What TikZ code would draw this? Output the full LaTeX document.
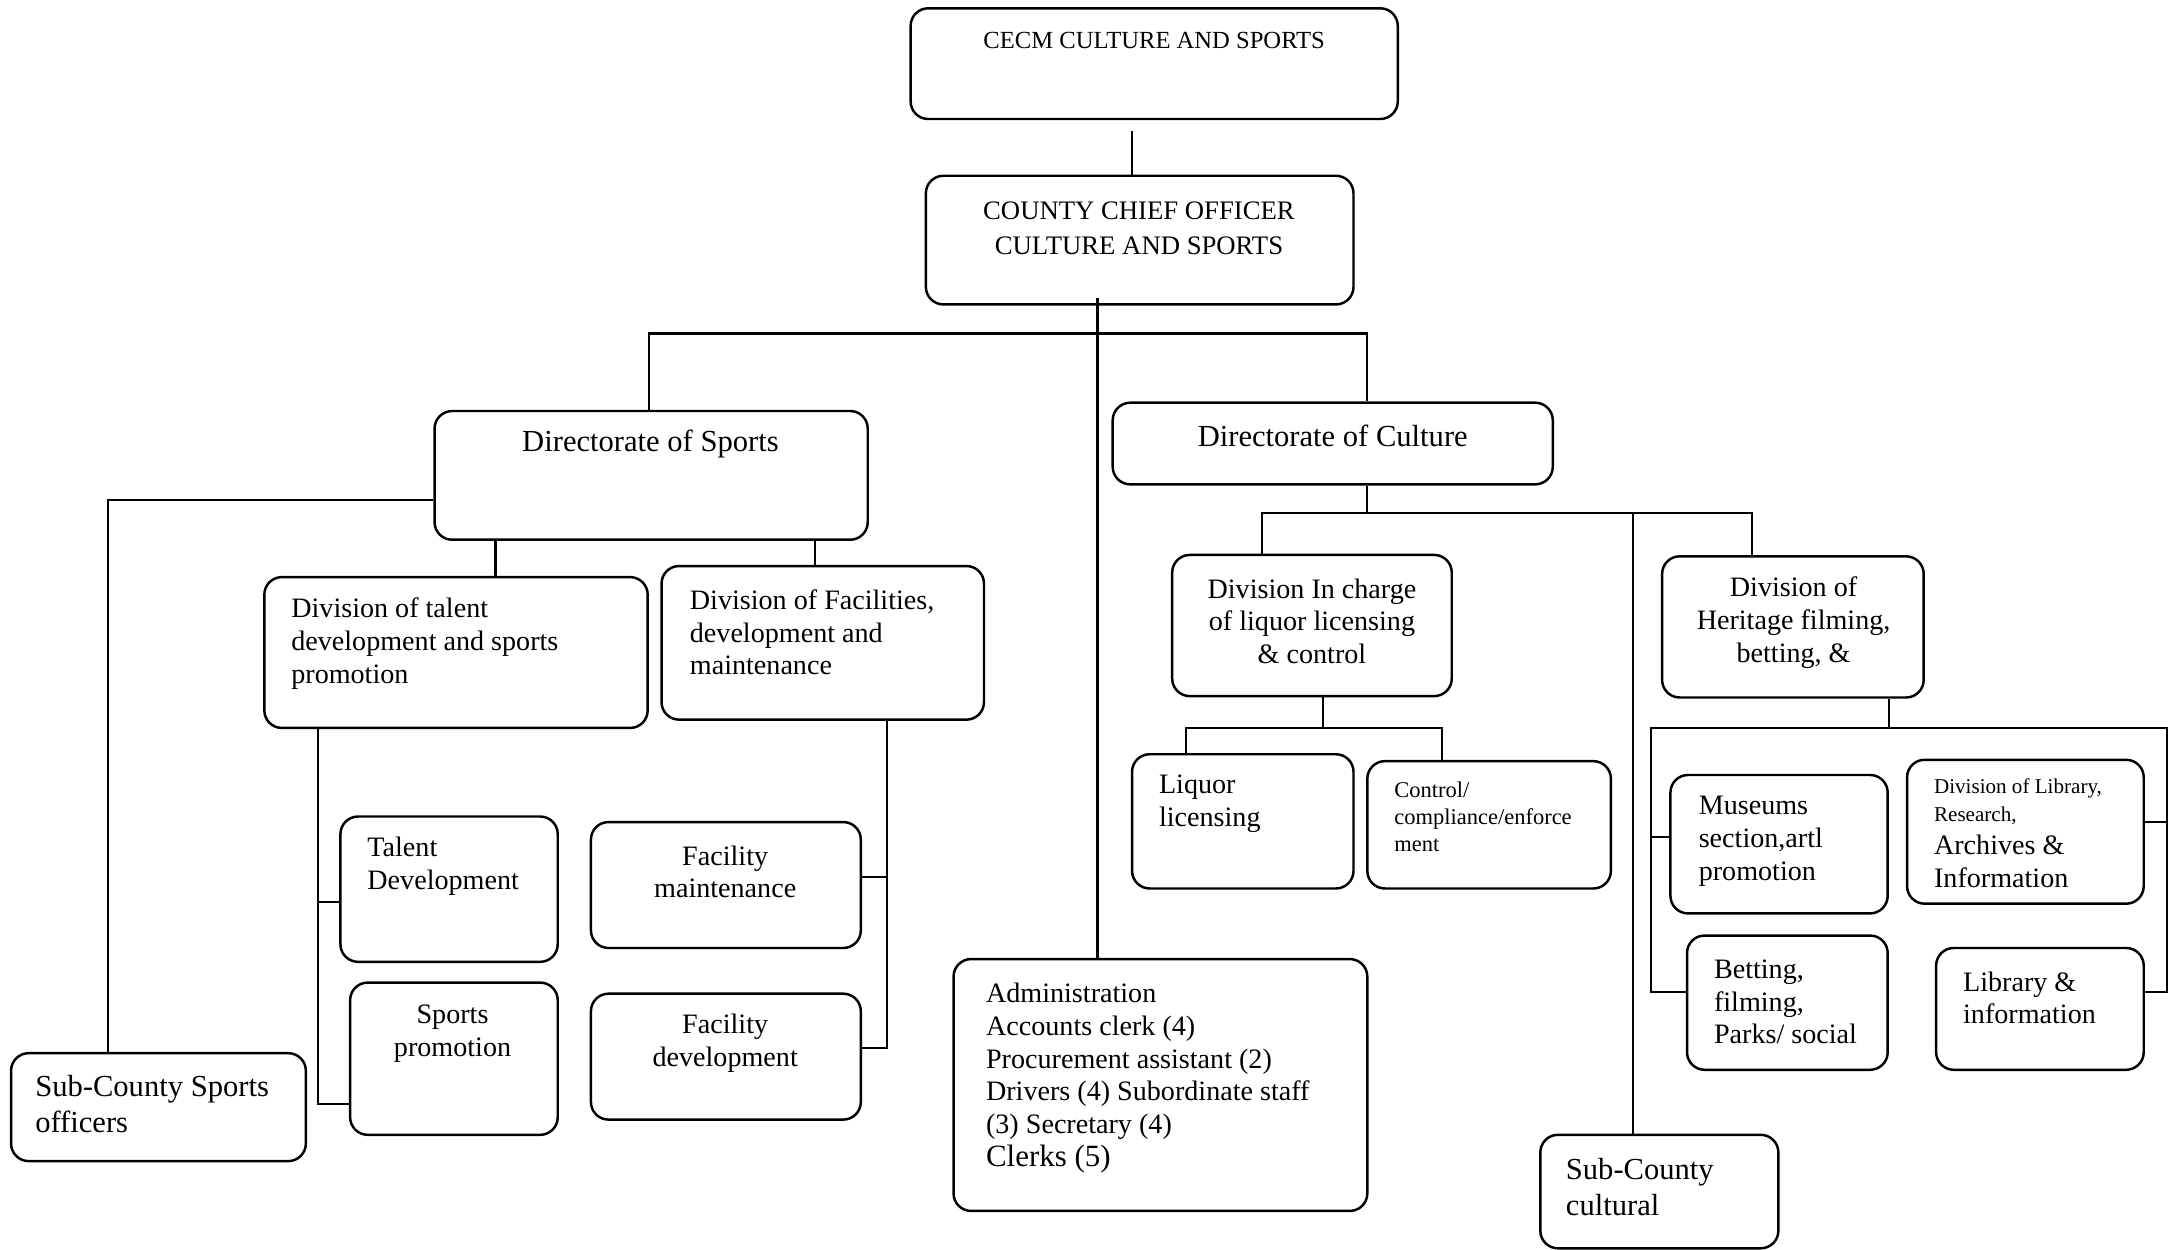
\documentclass[tikz,border=0pt]{standalone}
\usepackage{fontspec}
\setmainfont{Liberation Serif}
\usetikzlibrary{positioning, fit, calc}

\begin{document}
\begin{tikzpicture}[
        x=0.01384cm, y=-0.01384cm,
        box/.style={draw, line width=0.7pt, rounded corners=5pt, inner sep=0pt},
        lbl/.style={font=\fontsize{8}{9.3}\selectfont, inner sep=0pt, align=left, anchor=west},
        lblc/.style={lbl, align=center, anchor=center},
        small/.style={font=\fontsize{6.4}{7.7}\selectfont},
        big/.style={font=\fontsize{8.7}{10.2}\selectfont},
        link/.style={line width=0.6pt}
    ]
        \useasboundingbox (0,0) rectangle (1568,903);

        % boxes
        \node[box, fit={(658,6) (1010,86)}] (cecm) {};
        \node[box, fit={(669,127) (978,220)}] (chief) {};
        \node[box, fit={(314,297) (627,390)}] (sports) {};
        \node[box, fit={(804,291) (1122,350)}] (culture) {};
        \node[box, fit={(191,417) (468,526)}] (divtal) {};
        \node[box, fit={(478,409) (711,520)}] (divfac) {};
        \node[box, fit={(246,590) (403,695)}] (tdev) {};
        \node[box, fit={(253,710) (403,820)}] (sprom) {};
        \node[box, fit={(427,594) (622,685)}] (fmaint) {};
        \node[box, fit={(427,718) (622,809)}] (fdev) {};
        \node[box, fit={(8,761) (221,839)}] (subsp) {};
        \node[box, fit={(689,693) (988,875)}] (admin) {};
        \node[box, fit={(847,401) (1049,503)}] (divliq) {};
        \node[box, fit={(818,545) (978,642)}] (liqlic) {};
        \node[box, fit={(988,550) (1164,642)}] (control) {};
        \node[box, fit={(1201,402) (1390,504)}] (divher) {};
        \node[box, fit={(1207,560) (1364,660)}] (museum) {};
        \node[box, fit={(1378,549) (1549,653)}] (libdiv) {};
        \node[box, fit={(1219,676) (1364,773)}] (betting) {};
        \node[box, fit={(1399,685) (1549,773)}] (libinfo) {};
        \node[box, fit={(1113,820) (1285,902)}] (subcul) {};

        % texts
        \node[lblc, font=\fontsize{7}{8.5}\selectfont] (cecm-t) at (834,29) {CECM CULTURE AND SPORTS};
        \node[lblc, font=\fontsize{7.6}{10.2}\selectfont] (chief-t) at (823,165) {COUNTY CHIEF OFFICER\\CULTURE AND SPORTS};
        \node[lblc, big] (sports-t) at (470,321) {Directorate of Sports};
        \node[lblc, big] (culture-t) at (963,315) {Directorate of Culture};
        \node[lbl] (divtal-t) at (210,465) {Division of talent\\development and sports\\promotion};
        \node[lbl] (divfac-t) at (498,457) {Division of Facilities,\\development and\\maintenance};
        \node[lbl] (tdev-t) at (265,626) {Talent\\Development};
        \node[lblc] (sprom-t) at (327,747) {Sports\\promotion};
        \node[lblc] (fmaint-t) at (524,630) {Facility\\maintenance};
        \node[lblc] (fdev-t) at (524,754) {Facility\\development};
        \node[lbl, big] (subsp-t) at (25,798) {Sub-County Sports\\officers};
        \node[lbl] (admin-t) at (712,779) {Administration\\Accounts clerk (4)\\Procurement assistant (2)\\Drivers (4) Subordinate staff\\(3) Secretary (4)\\{\fontsize{8.8}{9.3}\selectfont Clerks (5)}};
        \node[lblc] (divliq-t) at (948,449) {Division In charge\\of liquor licensing\\\& control};
        \node[lbl] (liqlic-t) at (837,581) {Liquor\\licensing};
        \node[lbl, small] (control-t) at (1007,590) {Control/\\compliance/enforce\\ment};
        \node[lblc] (divher-t) at (1296,450) {Division of\\Heritage filming,\\betting, \&};
        \node[lbl] (museum-t) at (1227,608) {Museums\\section,artl\\promotion};
        \node[lbl] (libdiv-t) at (1397,602) {{\fontsize{6}{7.3}\selectfont Division of Library,}\\[-1.2pt]{\fontsize{6}{7.3}\selectfont Research,}\\Archives \&\\Information};
        \node[lbl] (betting-t) at (1238,724) {Betting,\\filming,\\Parks/ social};
        \node[lbl] (libinfo-t) at (1418,721) {Library \&\\information};
        \node[lbl, big] (subcul-t) at (1131,858) {Sub-County\\cultural};

        % top part
        \coordinate (c1) at (818,95);
        \draw[link] (c1) -- (c1 |- chief.north);
        \coordinate (trunk) at (793,215);
        \draw[link] (trunk) -- (trunk |- admin.north);
        \coordinate (busL) at (469,241);
        \coordinate (busR) at (988,241);
        \draw[link] (busL |- sports.north) -- (busL) -- (busR) -- (busR |- culture.north);

        % sports side
        \coordinate (sl) at (78,361);
        \draw[link] (sports.west |- sl) -- (sl) -- (sl |- subsp.north);
        \coordinate (d1) at (358,0);
        \coordinate (d2) at (589,0);
        \draw[link] (sports.south -| d1) -- (divtal.north -| d1);
        \draw[link] (sports.south -| d2) -- (divfac.north -| d2);
        \coordinate (tb1) at (230,652);
        \coordinate (tb2) at (230,798);
        \draw[link] (divtal.south -| tb1) -- (tb2) -- (tb2 -| sprom.west);
        \draw[link] (tb1) -- (tb1 -| tdev.west);
        \coordinate (fb1) at (641,634);
        \coordinate (fb2) at (641,757);
        \draw[link] (divfac.south -| fb1) -- (fb2) -- (fb2 -| fdev.east);
        \draw[link] (fb1) -- (fb1 -| fmaint.east);

        % culture side
        \coordinate (cb) at (988,371);
        \coordinate (cbl) at (912,371);
        \coordinate (cbr) at (1266,371);
        \coordinate (cs) at (1180,371);
        \draw[link] (culture.south -| cb) -- (cb);
        \draw[link] (cbl |- divliq.north) -- (cbl) -- (cbr) -- (cbr |- divher.north);
        \draw[link] (cs) -- (cs |- subcul.north);
        \coordinate (lq) at (956,526);
        \coordinate (lql) at (857,526);
        \coordinate (lqr) at (1042,526);
        \draw[link] (divliq.south -| lq) -- (lq);
        \draw[link] (lql |- liqlic.north) -- (lql) -- (lqr) -- (lqr |- control.north);
        \coordinate (hb) at (1365,526);
        \coordinate (hl) at (1193,526);
        \coordinate (hr) at (1566,526);
        \draw[link] (divher.south -| hb) -- (hb);
        \coordinate (hl1) at (1193,605);
        \coordinate (hl2) at (1193,717);
        \coordinate (hr1) at (1566,594);
        \coordinate (hr2) at (1566,717);
        \draw[link] (hl1 -| museum.west) -- (hl1);
        \draw[link] (hl2 -| betting.west) -- (hl2) -- (hl) -- (hr) -- (hr2) -- (hr2 -| libinfo.east);
        \draw[link] (hr1) -- (hr1 -| libdiv.east);
    \end{tikzpicture}
\end{document}
